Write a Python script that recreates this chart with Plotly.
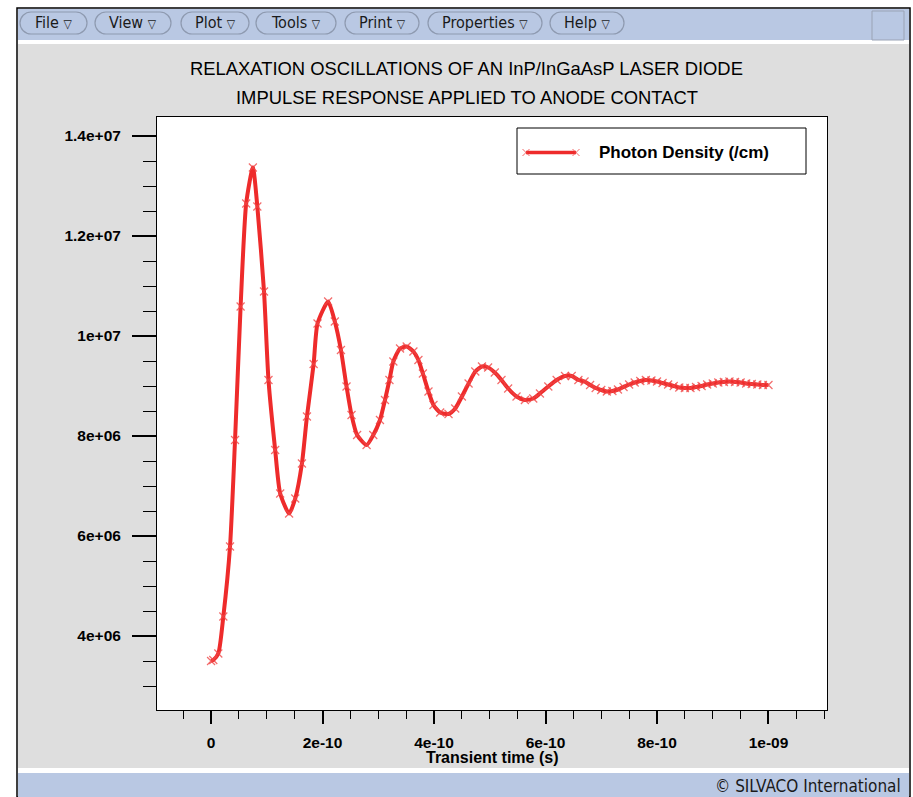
import plotly.graph_objects as go

# ---- data: photon density response of the laser diode ----
time_s = [
    0.0, 0.04e-10, 0.13e-10, 0.22e-10, 0.34e-10, 0.43e-10, 0.53e-10, 0.63e-10,
    0.75e-10, 0.83e-10, 0.95e-10, 1.03e-10, 1.15e-10, 1.24e-10, 1.40e-10,
    1.51e-10, 1.63e-10, 1.72e-10, 1.84e-10, 1.91e-10, 2.10e-10, 2.22e-10,
    2.33e-10, 2.43e-10, 2.52e-10, 2.62e-10, 2.79e-10, 2.91e-10, 3.03e-10,
    3.12e-10, 3.20e-10, 3.27e-10, 3.39e-10, 3.51e-10, 3.63e-10, 3.72e-10,
    3.80e-10, 3.90e-10, 3.99e-10, 4.11e-10, 4.26e-10, 4.38e-10, 4.50e-10,
    4.62e-10, 4.74e-10, 4.86e-10, 4.97e-10, 5.09e-10, 5.21e-10, 5.33e-10,
    5.48e-10, 5.63e-10, 5.78e-10, 5.90e-10, 6.05e-10, 6.20e-10, 6.35e-10,
    6.47e-10, 6.59e-10, 6.70e-10, 6.80e-10, 6.90e-10, 7.00e-10, 7.10e-10,
    7.20e-10, 7.30e-10, 7.40e-10, 7.50e-10, 7.60e-10, 7.70e-10, 7.80e-10,
    7.90e-10, 8.00e-10, 8.10e-10, 8.20e-10, 8.30e-10, 8.40e-10, 8.50e-10,
    8.60e-10, 8.70e-10, 8.80e-10, 8.90e-10, 9.00e-10, 9.10e-10, 9.20e-10,
    9.30e-10, 9.40e-10, 9.50e-10, 9.60e-10, 9.70e-10, 9.80e-10, 9.90e-10,
    10.0e-10,
]
photon_density = [
    3.50e6, 3.52e6, 3.65e6, 4.39e6, 5.79e6, 7.92e6, 1.059e7, 1.265e7,
    1.337e7, 1.259e7, 1.089e7, 9.12e6, 7.72e6, 6.85e6, 6.45e6,
    6.75e6, 7.45e6, 8.39e6, 9.44e6, 1.025e7, 1.069e7, 1.029e7,
    9.72e6, 8.99e6, 8.42e6, 8.02e6, 7.82e6, 8.02e6, 8.32e6,
    8.72e6, 9.12e6, 9.49e6, 9.75e6, 9.79e6, 9.69e6, 9.52e6,
    9.25e6, 8.89e6, 8.62e6, 8.47e6, 8.44e6, 8.55e6, 8.79e6,
    9.05e6, 9.29e6, 9.39e6, 9.37e6, 9.27e6, 9.12e6, 8.95e6,
    8.79e6, 8.72e6, 8.75e6, 8.85e6, 8.99e6, 9.12e6, 9.20e6,
    9.20e6, 9.12e6, 9.09e6, 9.02e6, 8.96e6, 8.92e6, 8.89e6,
    8.90e6, 8.93e6, 8.98e6, 9.03e6, 9.07e6, 9.10e6, 9.12e6,
    9.11e6, 9.09e6, 9.06e6, 9.03e6, 9.00e6, 8.97e6, 8.96e6,
    8.96e6, 8.98e6, 9.00e6, 9.03e6, 9.05e6, 9.07e6, 9.08e6,
    9.09e6, 9.08e6, 9.07e6, 9.05e6, 9.04e6, 9.03e6, 9.02e6,
    9.02e6,
]

x_tick_vals = [0, 2e-10, 4e-10, 6e-10, 8e-10, 1e-9]
x_tick_text = ["0", "2e-10", "4e-10", "6e-10", "8e-10", "1e-09"]
y_tick_vals = [4e6, 6e6, 8e6, 1e7, 1.2e7, 1.4e7]
y_tick_text = ["4e+06", "6e+06", "8e+06", "1e+07", "1.2e+07", "1.4e+07"]

menu_items = ["File", "View", "Plot", "Tools", "Print", "Properties", "Help"]

title_lines = [
    "RELAXATION OSCILLATIONS OF AN InP/InGaAsP LASER DIODE",
    "IMPULSE RESPONSE APPLIED TO ANODE CONTACT",
]
x_title = "Transient time (s)"
series_name = "Photon Density (/cm)"
footer = "\u00a9 SILVACO International"

# ---- page geometry (pixels) ----
W, H = 913, 797
PLOT_L, PLOT_R, PLOT_T, PLOT_B = 157, 827, 117, 710

RED = "#ee2b2b"
GRAY = "#dedede"
BAND = "#b9c8e3"
PILL_EDGE = "#8e9ab0"
SANS = "Liberation Sans, Arial, Helvetica, sans-serif"
NARROW = "Liberation Sans Narrow, Arial Narrow, DejaVu Sans Condensed, sans-serif"


def px(x):
    return x / W


def py(y):
    return 1 - y / H


def rect(x0, y0, x1, y1, fill=None, line=None, lw=1, layer="below"):
    return dict(
        type="rect", xref="paper", yref="paper",
        x0=px(x0), x1=px(x1), y0=py(y1), y1=py(y0),
        fillcolor=fill if fill else "rgba(0,0,0,0)",
        line=dict(color=line if line else "rgba(0,0,0,0)", width=lw if line else 0),
        layer=layer,
    )


def seg(x0, y0, x1, y1, color, width, layer="above"):
    return dict(
        type="line", xref="paper", yref="paper",
        x0=px(x0), x1=px(x1), y0=py(y0), y1=py(y1),
        line=dict(color=color, width=width), layer=layer,
    )


def pill(x0, y0, x1, y1):
    r = (y1 - y0) / 2
    yc = (y0 + y1) / 2
    k = 0.5523 * r
    pts = [
        ("M", [(x0 + r, y0)]),
        ("L", [(x1 - r, y0)]),
        ("C", [(x1 - r + k, y0), (x1, yc - k), (x1, yc)]),
        ("C", [(x1, yc + k), (x1 - r + k, y1), (x1 - r, y1)]),
        ("L", [(x0 + r, y1)]),
        ("C", [(x0 + r - k, y1), (x0, yc + k), (x0, yc)]),
        ("C", [(x0, yc - k), (x0 + r - k, y0), (x0 + r, y0)]),
    ]
    d = ""
    for cmd, coords in pts:
        d += cmd + " ".join(f"{px(a):.5f},{py(b):.5f}" for a, b in coords) + " "
    d += "Z"
    return dict(
        type="path", xref="paper", yref="paper", path=d,
        fillcolor=BAND, line=dict(color=PILL_EDGE, width=1.2), layer="below",
    )


shapes = []
# window frame
shapes.append(rect(17, 8, 910, 797, fill="white", line="black", lw=1.5))
shapes.append(rect(18, 9, 909, 40, fill=BAND))
shapes.append(rect(18, 44, 909, 768, fill=GRAY))
shapes.append(rect(18, 773, 909, 797, fill=BAND))
shapes.append(rect(872, 11, 904, 40, fill=BAND, line="#9aa3b5", lw=1))
# plot area
shapes.append(rect(PLOT_L, PLOT_T, PLOT_R, PLOT_B, fill="white"))

# menu buttons
pill_spans = [(20, 87), (95, 171), (181, 249), (256, 336), (345, 419), (428, 542), (550, 624)]
for (a, b) in pill_spans:
    shapes.append(pill(a, 12, b, 34))

# legend box and glyph
shapes.append(rect(517, 128, 806, 174, fill="white", line="black", lw=1, layer="above"))
shapes.append(seg(526, 152.5, 576, 152.5, RED, 3.5))
for cx in (526, 576):
    shapes.append(seg(cx - 3.5, 149, cx + 3.5, 156, "rgba(240,70,70,0.8)", 1))
    shapes.append(seg(cx - 3.5, 156, cx + 3.5, 149, "rgba(240,70,70,0.8)", 1))

annotations = []


def text(x, y, s, size, family=SANS, weight="normal", xanchor="center", color="black"):
    annotations.append(dict(
        xref="paper", yref="paper", x=px(x), y=py(y), text=s, showarrow=False,
        xanchor=xanchor, yanchor="middle",
        font=dict(family=family, size=size, color=color, weight=weight),
    ))


for (a, b), name in zip(pill_spans, menu_items):
    text((a + b) / 2, 23, f"{name} <span style='font-size:12px'>\u25bd</span>", 16,
         family=NARROW, color="#1a1a1a")

text(466.5, 68, title_lines[0], 18.4)
text(466.5, 98, title_lines[1], 18.4)
text((PLOT_L + PLOT_R) / 2, 757, x_title, 16, weight="bold")
text(597, 153, series_name, 17, weight="bold", xanchor="left")
text(903, 786, footer, 17, family=NARROW, xanchor="right", color="#1a1a1a")

fig = go.Figure()
fig.add_trace(go.Scatter(
    x=time_s, y=photon_density, mode="lines+markers", name=series_name,
    line=dict(color=RED, width=4, shape="spline", smoothing=0.6),
    marker=dict(symbol="x-thin", size=8, line=dict(color="rgba(240,70,70,0.8)", width=1.2)),
    showlegend=False,
))

fig.update_layout(
    width=W, height=H, autosize=False,
    margin=dict(l=0, r=0, t=0, b=0, pad=0),
    paper_bgcolor="white", plot_bgcolor="rgba(0,0,0,0)",
    shapes=shapes, annotations=annotations, showlegend=False,
    xaxis=dict(
        domain=[px(PLOT_L), px(PLOT_R)],
        range=[-0.97e-10, 11.05e-10],
        showgrid=False, zeroline=False,
        showline=True, mirror=True, linecolor="black", linewidth=1,
        ticks="outside", ticklen=13, tickwidth=2, tickcolor="black",
        tickmode="array", tickvals=x_tick_vals, ticktext=x_tick_text,
        tickfont=dict(family=SANS, size=15.5, color="black", weight="bold"),
        ticklabelstandoff=5,
        minor=dict(tickmode="linear", tick0=0, dtick=0.5e-10, ticks="outside",
                   ticklen=8, tickwidth=1, tickcolor="black", showgrid=False),
    ),
    yaxis=dict(
        domain=[py(PLOT_B), py(PLOT_T)],
        range=[2.52e6, 1.438e7],
        showgrid=False, zeroline=False,
        showline=True, mirror=True, linecolor="black", linewidth=1,
        ticks="outside", ticklen=24, tickwidth=2, tickcolor="black",
        tickmode="array", tickvals=y_tick_vals, ticktext=y_tick_text,
        tickfont=dict(family=SANS, size=15.5, color="black", weight="bold"),
        ticklabelstandoff=8,
        minor=dict(tickmode="linear", tick0=0, dtick=0.5e6, ticks="outside",
                   ticklen=13, tickwidth=1, tickcolor="black", showgrid=False),
    ),
)

fig.write_html("out.html")
